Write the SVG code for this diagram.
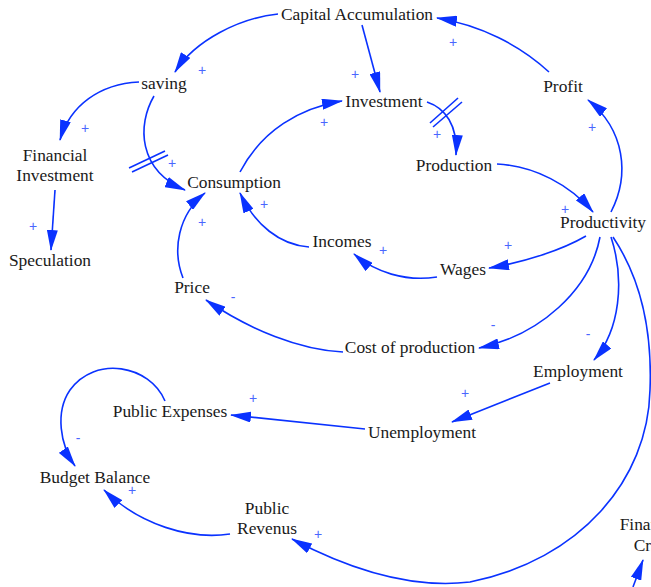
<svg xmlns="http://www.w3.org/2000/svg" width="651" height="587" viewBox="0 0 651 587">
<style>
.n{font-family:"Liberation Serif","Times New Roman",serif;font-size:17.4px;fill:#1a1a1a;text-anchor:middle}
.c path,.c line{fill:none;stroke:#0a32ff;stroke-width:1.6}
.c path.a,.c line.a{marker-end:url(#ah)}
.p{font-family:"Liberation Sans",Arial,sans-serif;font-size:14px;fill:#4a66ff;text-anchor:middle}
</style>
<defs>
<marker id="ah" markerUnits="userSpaceOnUse" viewBox="0 0 21 11" markerWidth="21" markerHeight="11" refX="20" refY="5.5" orient="auto">
<path d="M0,0 L21,5.5 L0,11 z" fill="#0a32ff"/>
</marker>
</defs>
<g class="c" id="connectors">
<path class="a" d="M278,14 C240,18 195,40 175,72"/>
<line class="a" x1="362" y1="25" x2="380" y2="92"/>
<path class="a" d="M549,72 C520,45 480,25 437,18"/>
<path class="a" d="M611,212 C630,175 625,130 588,100"/>
<path class="a" d="M427,102 C445,108 458,125 456,155"/>
<path class="a" d="M497,164 C535,166 570,185 593,212"/>
<path class="a" d="M240,172 C262,130 300,108 342,101"/>
<path class="a" d="M154,96 C137,125 138,170 185,190"/>
<path class="a" d="M139,82 C100,84 70,105 60,140"/>
<line class="a" x1="55" y1="190" x2="51" y2="250"/>
<path class="a" d="M183,278 C172,250 178,215 205,193"/>
<path class="a" d="M309,247 C280,245 255,225 240,193"/>
<path class="a" d="M437,277 C405,282 375,272 354,254"/>
<path class="a" d="M586,236 C562,250 525,262 489,268"/>
<path class="a" d="M600,237 C590,290 540,335 479,348"/>
<path class="a" d="M611,237 C625,280 620,330 594,360"/>
<path class="a" d="M613,237 C645,285 652,340 650,390 C648,480 580,560 470,582 C420,588 360,575 292,539"/>
<path class="a" d="M343,352 C300,350 250,330 206,300"/>
<line class="a" x1="550" y1="383" x2="452" y2="422"/>
<line class="a" x1="365" y1="429" x2="231" y2="415"/>
<path class="a" d="M165,401 C150,365 95,355 70,390 C55,412 60,445 75,466"/>
<path class="a" d="M230,534 C190,540 140,525 104,490"/>
<line class="a" x1="633" y1="587" x2="643" y2="560"/>
<line x1="129" y1="168" x2="165" y2="151"/>
<line x1="132" y1="172" x2="168" y2="155"/>
<line x1="430" y1="123" x2="458" y2="98"/>
<line x1="433" y1="127" x2="462" y2="102"/>
</g>
<g id="polarities">
<text class="p" x="202" y="75">+</text>
<text class="p" x="85" y="133">+</text>
<text class="p" x="172" y="168">+</text>
<text class="p" x="324" y="127">+</text>
<text class="p" x="355" y="79">+</text>
<text class="p" x="453" y="47">+</text>
<text class="p" x="437" y="139">+</text>
<text class="p" x="592" y="132">+</text>
<text class="p" x="565" y="214">+</text>
<text class="p" x="33" y="231">+</text>
<text class="p" x="202" y="227">+</text>
<text class="p" x="264" y="209">+</text>
<text class="p" x="383" y="255">+</text>
<text class="p" x="508" y="250">+</text>
<text class="p" x="493" y="330">-</text>
<text class="p" x="588" y="339">-</text>
<text class="p" x="233" y="302">-</text>
<text class="p" x="465" y="398">+</text>
<text class="p" x="253" y="403">+</text>
<text class="p" x="78" y="443">-</text>
<text class="p" x="132" y="495">+</text>
<text class="p" x="318" y="539">+</text>
</g>
<g id="capital-accumulation"><text class="n" x="357" y="20">Capital Accumulation</text></g>
<g id="saving"><text class="n" x="164" y="89">saving</text></g>
<g id="financial-investment"><text class="n" x="55" y="161">Financial</text><text class="n" x="55" y="181">Investment</text></g>
<g id="speculation"><text class="n" x="50" y="266">Speculation</text></g>
<g id="consumption"><text class="n" x="234" y="188">Consumption</text></g>
<g id="investment"><text class="n" x="384" y="107">Investment</text></g>
<g id="production"><text class="n" x="454" y="171">Production</text></g>
<g id="profit"><text class="n" x="563" y="92">Profit</text></g>
<g id="productivity"><text class="n" x="603" y="228">Productivity</text></g>
<g id="incomes"><text class="n" x="342" y="247">Incomes</text></g>
<g id="wages"><text class="n" x="463" y="275">Wages</text></g>
<g id="price"><text class="n" x="192" y="293">Price</text></g>
<g id="cost-of-production"><text class="n" x="410" y="353">Cost of production</text></g>
<g id="employment"><text class="n" x="578" y="377">Employment</text></g>
<g id="unemployment"><text class="n" x="422" y="438">Unemployment</text></g>
<g id="public-expenses"><text class="n" x="170" y="417">Public Expenses</text></g>
<g id="budget-balance"><text class="n" x="95" y="483">Budget Balance</text></g>
<g id="public-revenus"><text class="n" x="267" y="514">Public</text><text class="n" x="267" y="534">Revenus</text></g>
<g id="financial-crisis"><text class="n" x="652" y="530">Financial</text><text class="n" x="654" y="551">Crisis</text></g>
</svg>
